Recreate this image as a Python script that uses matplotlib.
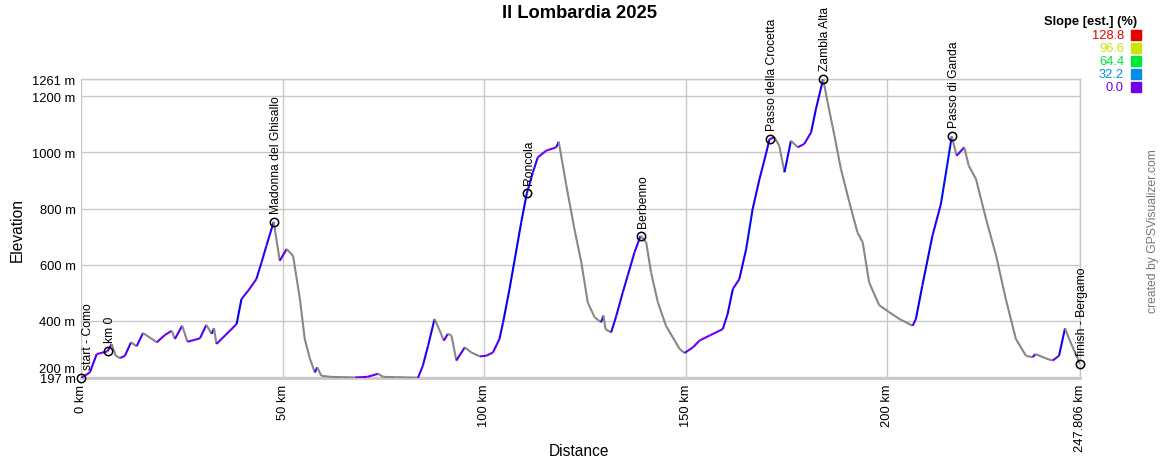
import numpy as np
import matplotlib
matplotlib.use('Agg')
import matplotlib.pyplot as plt
from matplotlib.collections import LineCollection
from matplotlib.colors import hsv_to_rgb
from matplotlib.patches import Rectangle
import matplotlib.transforms as mtransforms

plt.rcParams['font.family'] = ['Liberation Sans', 'DejaVu Sans']

dist_km = [0, 2.2, 3.9, 6.6, 7.6, 8.6, 9.7, 10.9, 12.4, 13.8, 15.4, 18.8, 20.8, 22.5, 23.3,
           25.1, 26.4, 29.5, 31.1, 32.4, 33.0, 33.6, 38.6, 39.8, 41.5, 43.5, 44.8, 46.0, 47.8,
           49.3, 51.0, 52.6, 54.3, 55.5, 56.8, 58.0, 58.6, 59.6, 62, 65, 68, 71, 73.7, 75, 78,
           81, 83.6, 84.8, 86.1, 87.7, 89.0, 90.0, 91.0, 91.9, 93.1, 95.2, 96.8, 98.9, 100.5,
           102.2, 103.8, 104.7, 106.3, 107.6, 109.2, 110.6, 112.1, 113.3, 115.4, 117.9, 118.5,
           120.4, 122.4, 124.1, 125.7, 127.4, 129.0, 129.6, 130.1, 131.5, 132.8, 134.4, 135.6,
           137.3, 138.8, 140.2, 141.4, 143.1, 145.1, 148.5, 149.7, 151.8, 153.4, 155.9, 159.2,
           160.4, 161.7, 163.3, 165.0, 166.6, 168.3, 169.9, 170.8, 172.0, 173.2, 174.5, 176.1,
           177.8, 179.4, 181.1, 182.3, 184.1, 185.2, 186.9, 188.5, 190.6, 192.6, 193.9, 195.5,
           198.0, 200.5, 203.0, 206.3, 207.1, 208.7, 211.2, 213.3, 214.9, 216.0, 217.2, 219.1,
           220.2, 222.0, 224.5, 227.0, 229.4, 231.9, 234.4, 236.0, 236.8, 239.3, 241.0, 242.6,
           244.1, 245.1, 247.806]
elev_m = [197, 217, 282, 292, 318, 276, 268, 276, 324, 310, 357, 324, 350, 365, 336,
          383, 326, 338, 386, 354, 374, 318, 389, 478, 508, 549, 609, 668, 753,
          614, 656, 632, 478, 336, 265, 217, 235, 205, 201, 200, 199, 201, 212, 201, 200,
          199, 198, 241, 312, 407, 365, 330, 354, 348, 259, 306, 288, 274, 276,
          288, 336, 395, 514, 620, 751, 855, 929, 982, 1006, 1018, 1038,
          881, 727, 609, 466, 413, 395, 419, 371, 359, 419, 502, 561,
          644, 703, 680, 573, 466, 383, 300, 286, 306, 330, 348, 371,
          425, 514, 549, 656, 798, 905, 994, 1047, 1053, 1024, 929, 1041,
          1018, 1030, 1071, 1154, 1261, 1178, 1059, 941, 822, 715, 680, 537,
          456, 431, 407, 383, 407, 526, 703, 816, 958, 1057, 988, 1018,
          953, 905, 763, 632, 478, 336, 276, 271, 282, 267, 259, 276,
          374, 336, 247]

wp_names = ['start - Como', 'km 0', 'Madonna del Ghisallo', 'Roncola', 'Berbenno',
            'Passo della Crocetta', 'Zambla Alta', 'Passo di Ganda', 'finish - Bergamo']
wp_km = [0, 6.6, 47.8, 110.6, 138.8, 170.8, 184.1, 216.0, 247.806]
wp_elev = [197, 292, 753, 855, 703, 1047, 1261, 1057, 247]

y_ticks = [197, 200, 400, 600, 800, 1000, 1200, 1261]
x_ticks = [0, 50, 100, 150, 200, 247.806]
x_labels = ['0 km', '50 km', '100 km', '150 km', '200 km', '247.806 km']
slope_steps = [128.8, 96.6, 64.4, 32.2, 0.0]

W, H = 1160, 460
GRID = '#c8c8c8'


def slope_color(s, v=0.95):
    # lila (0) -> rot (128.8) ueber den farbton
    f = min(max(s / 128.8, 0), 1)
    return hsv_to_rgb([270 * (1 - f) / 360, 1, v])


fig = plt.figure(figsize=(W / 100, H / 100), dpi=100)
ax = fig.add_axes([81 / W, 81 / H, 999 / W, 299 / H])

x = np.array(dist_km)
y = np.array(elev_m)
pts = np.column_stack([x, y])
segs = np.stack([pts[:-1], pts[1:]], axis=1)
slope = np.diff(y) / (np.diff(x) * 1000) * 100
# lokale steigung im gps-track ist steiler als der mittelwert hier
cols = [slope_color(1.8 * s) if s > 0 else (0.53, 0.53, 0.53) for s in slope]
ax.add_collection(LineCollection(segs, colors=cols, linewidths=1.5, zorder=3))

ax.plot(wp_km, wp_elev, 'o', ms=6, mfc='none', mec='black', mew=1.1, zorder=4, clip_on=False)
for n, k, e in zip(wp_names, wp_km, wp_elev):
    off = mtransforms.offset_copy(ax.transData, fig=fig, x=7 if k == 0 else 2, y=9, units='dots')
    ax.text(k, e, n, rotation=90, rotation_mode='anchor', ha='left', va='center',
            fontsize=8.7, transform=off, zorder=5)

ax.set_xlim(0, 247.806)
ax.set_ylim(197, 1261)
ax.set_xticks(x_ticks)
ax.set_xticklabels(x_labels, rotation=90, fontsize=9.3)
ax.set_yticks(y_ticks)
ax.set_yticklabels([f'{v} m' for v in y_ticks], fontsize=9.3)
ax.tick_params(length=0, pad=4)
ax.grid(True, color=GRID, lw=1)
for sp in ['top', 'right']:
    ax.spines[sp].set_color(GRID)
    ax.spines[sp].set_linewidth(1)
ax.spines['left'].set_visible(False)
ax.spines['bottom'].set_color(GRID)
ax.spines['bottom'].set_linewidth(2)

# 200 m etwas hoeher, damit es nicht auf 197 m liegt
for lab in ax.get_yticklabels():
    if lab.get_text() == '200 m':
        lab.set_transform(lab.get_transform() + mtransforms.ScaledTranslation(0, 10 / 100, fig.dpi_scale_trans))

fig.text(579 / W, 1 - 13 / H, 'Il Lombardia 2025', ha='center', va='center', fontsize=13.2, fontweight='bold')
fig.text(579 / W, 1 - 452 / H, 'Distance', ha='center', va='center', fontsize=11.2)
fig.text(17 / W, 1 - 230 / H, 'Elevation', ha='center', va='center', fontsize=11.2, rotation=90)
fig.text(1153 / W, 1 - 231 / H, 'created by GPSVisualizer.com', ha='center', va='center',
         fontsize=8.7, rotation=90, color='#777777')

# legende
fig.text(1137 / W, 1 - 21.5 / H, 'Slope [est.] (%)', ha='right', va='center', fontsize=9.3, fontweight='bold')
for i, s in enumerate(slope_steps):
    yc = 36 + i * 13.1
    c = slope_color(s, 0.9)
    fig.text(1124 / W, 1 - yc / H, f'{s:.1f}', ha='right', va='center', fontsize=9.3, color=c)
    fig.add_artist(Rectangle((1131 / W, 1 - (yc + 5) / H), 10 / W, 10 / H,
                             transform=fig.transFigure, color=c))

fig.savefig('out.png', dpi=100)
